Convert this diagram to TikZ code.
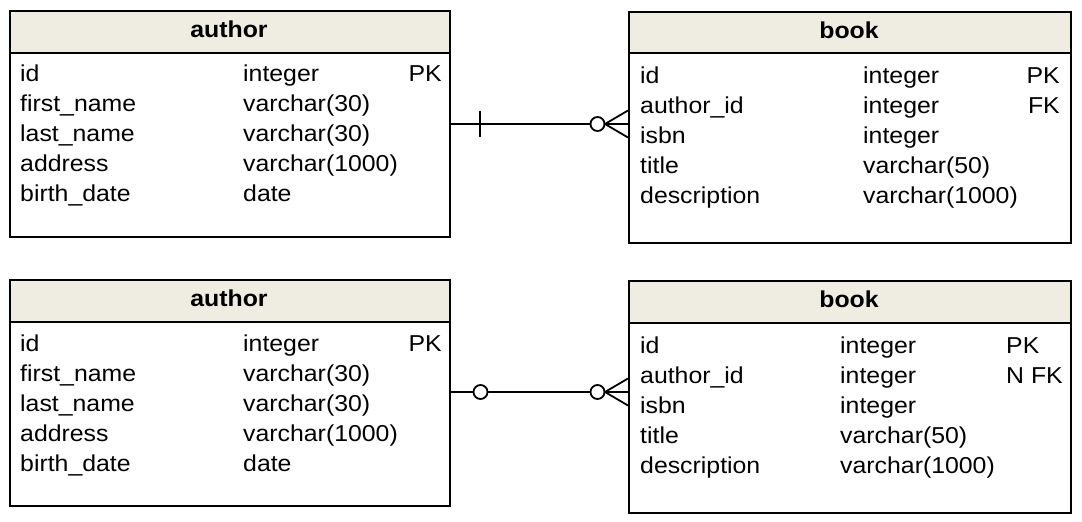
\documentclass[tikz,border=0pt]{standalone}
\usepackage{fontspec}
\setmainfont{Liberation Sans}[FakeStretch=1.08]
\definecolor{hdr}{RGB}{239,236,226}
\tikzset{
  box/.style={draw=black, line width=1.8pt, anchor=north west, inner sep=0pt, fill=white},
  head/.style={draw=black, line width=1.8pt, anchor=north west, inner sep=0pt, fill=hdr},
  htxt/.style={anchor=base, inner sep=0pt, font=\fontsize{23}{27}\selectfont\bfseries},
  ftxt/.style={anchor=base west, inner sep=0pt, font=\fontsize{23}{27}\selectfont},
  ktxt/.style={anchor=base east, inner sep=0pt, font=\fontsize{23}{27}\selectfont},
  conn/.style={line width=1.8pt, draw=black},
  ring/.style={circle, draw=black, line width=1.8pt, fill=white, minimum size=14pt, inner sep=0pt}
}
\begin{document}
\begin{tikzpicture}[x=1pt,y=-1pt]
\useasboundingbox (0,0) rectangle (1082,522);
\fill[white] (0,0) rectangle (1082,522);
% ---------- top author ----------
\node[box, minimum width=440pt, minimum height=226pt] (a1) at (9,10) {};
\node[head, minimum width=440pt, minimum height=42pt] (a1h) at (9,10) {};
\node[htxt] (a1t) at (229,37) {author};
\foreach \n/\t/\k [count=\i from 0] in {id/integer/PK, first\_name/varchar(30)/, last\_name/varchar(30)/, address/varchar(1000)/, birth\_date/date/} {
  \node[ftxt] (a1n\i) at (20,81+30*\i) {\n};
  \node[ftxt] (a1y\i) at (243,81+30*\i) {\t};
  \node[ktxt] (a1k\i) at (442,81+30*\i) {\k};
}
% ---------- top book ----------
\node[box, minimum width=442pt, minimum height=231pt] (b1) at (628,11) {};
\node[head, minimum width=442pt, minimum height=41pt] (b1h) at (628,11) {};
\node[htxt] (b1t) at (849,38) {book};
\foreach \n/\t/\k [count=\i from 0] in {id/integer/PK, author\_id/integer/FK, isbn/integer/, title/varchar(50)/, description/varchar(1000)/} {
  \node[ftxt] (b1n\i) at (640,83+30*\i) {\n};
  \node[ftxt] (b1y\i) at (863,83+30*\i) {\t};
  \node[ktxt] (b1k\i) at (1060,83+30*\i) {\k};
}
% ---------- bottom author ----------
\node[box, minimum width=440pt, minimum height=226pt] (a2) at (9,279) {};
\node[head, minimum width=440pt, minimum height=42pt] (a2h) at (9,279) {};
\node[htxt] (a2t) at (229,306) {author};
\foreach \n/\t/\k [count=\i from 0] in {id/integer/PK, first\_name/varchar(30)/, last\_name/varchar(30)/, address/varchar(1000)/, birth\_date/date/} {
  \node[ftxt] (a2n\i) at (20,351+30*\i) {\n};
  \node[ftxt] (a2y\i) at (243,351+30*\i) {\t};
  \node[ktxt] (a2k\i) at (442,351+30*\i) {\k};
}
% ---------- bottom book ----------
\node[box, minimum width=442pt, minimum height=232pt] (b2) at (628,280) {};
\node[head, minimum width=442pt, minimum height=42pt] (b2h) at (628,280) {};
\node[htxt] (b2t) at (849,307) {book};
\foreach \n/\t/\k [count=\i from 0] in {id/integer/PK, author\_id/integer/N FK, isbn/integer/, title/varchar(50)/, description/varchar(1000)/} {
  \node[ftxt] (b2n\i) at (640,353+30*\i) {\n};
  \node[ftxt] (b2y\i) at (840,353+30*\i) {\t};
  \node[ftxt] (b2k\i) at (1006,353+30*\i) {\k};
}
% ---------- connector 1: one-and-only-one to zero-or-many ----------
\coordinate (c1a) at (a1.east |- 0,124);
\coordinate (c1b) at (b1.west |- 0,124);
\coordinate (c1f) at (605,124);
\draw[conn] (c1a) -- (c1b);
\draw[conn] (480,110.5) -- (480,136.5);
\draw[conn] (c1f) -- (628,110.5);
\draw[conn] (c1f) -- (628,137.5);
\node[ring] (r1) at (597.5,124) {};
% ---------- connector 2: zero-or-one to zero-or-many ----------
\coordinate (c2a) at (a2.east |- 0,392);
\coordinate (c2b) at (b2.west |- 0,392);
\coordinate (c2f) at (605,392);
\draw[conn] (c2a) -- (c2b);
\draw[conn] (c2f) -- (628,378.5);
\draw[conn] (c2f) -- (628,405.5);
\node[ring] (r2) at (480.5,392) {};
\node[ring] (r3) at (597.5,392) {};
\end{tikzpicture}
\end{document}
